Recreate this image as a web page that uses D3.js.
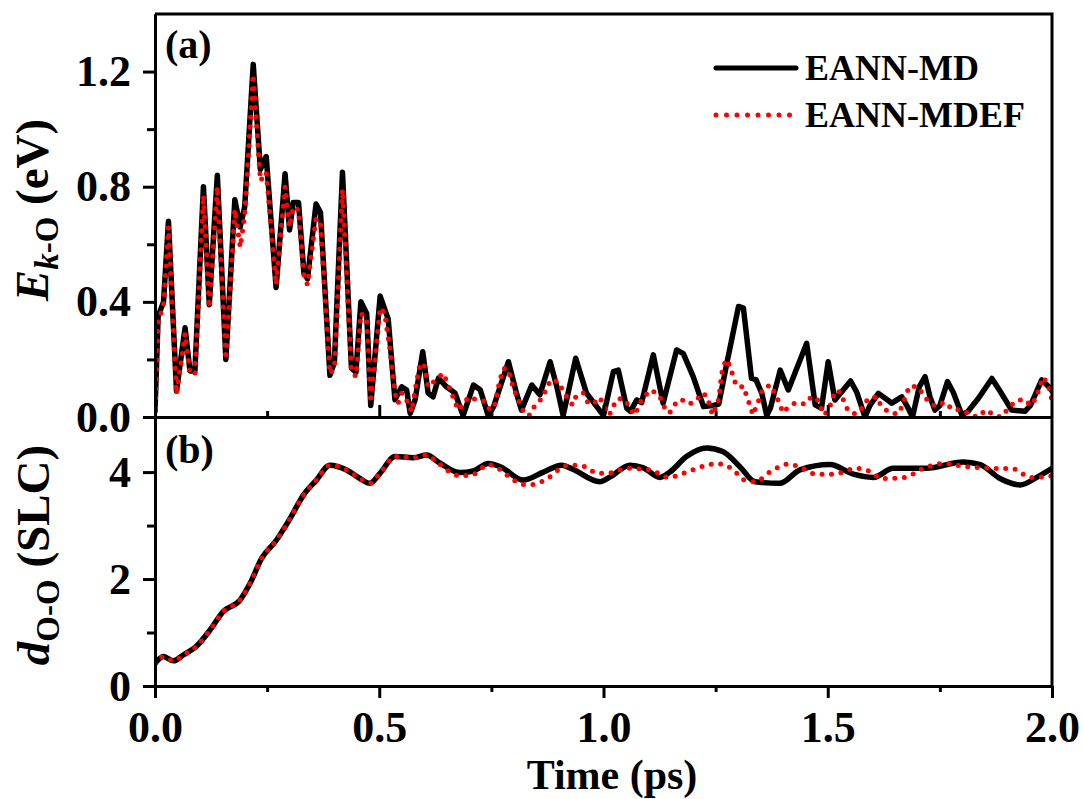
<!DOCTYPE html>
<html>
<head>
<meta charset="utf-8">
<script src="https://cdn.jsdelivr.net/npm/d3@7"></script>
<style>
  body { margin: 0; background: #fff; }
  svg { display: block; }
  text { font-family: "Liberation Serif", "Times New Roman", serif; font-weight: bold; }
</style>
</head>
<body>
<script>
// panel (a): kinetic energy of O, black = EANN-MD, red = EANN-MDEF
var tEkMD = [0.000,0.007,0.019,0.030,0.048,0.067,0.078,0.089,0.108,0.121,0.139,0.158,0.178,0.190,0.200,0.219,0.235,0.248,0.270,0.290,
  0.300,0.308,0.320,0.332,0.340,0.359,0.369,0.390,0.400,0.418,0.438,0.448,0.459,0.472,0.481,0.502,0.520,0.535,0.550,0.561,
  0.569,0.580,0.597,0.609,0.620,0.632,0.650,0.669,0.687,0.710,0.725,0.743,0.755,0.788,0.806,0.817,0.840,0.858,0.881,0.896,
  0.910,0.938,0.962,0.985,1.000,1.022,1.033,1.052,1.060,1.074,1.085,1.111,1.133,1.163,1.178,1.200,1.223,1.245,1.257,1.275,
  1.301,1.312,1.330,1.340,1.353,1.364,1.372,1.394,1.412,1.453,1.472,1.486,1.501,1.516,1.527,1.551,1.565,1.583,1.594,1.613,
  1.628,1.643,1.665,1.678,1.689,1.704,1.717,1.728,1.739,1.750,1.767,1.780,1.799,1.813,1.836,1.866,1.884,1.910,1.940,1.952,
  1.977,1.996,2.000];
var ekMD = [0.02,0.35,0.40,0.68,0.09,0.31,0.16,0.16,0.80,0.39,0.84,0.20,0.755,0.66,0.73,1.225,0.86,0.905,0.45,0.845,
  0.65,0.745,0.745,0.50,0.48,0.74,0.71,0.145,0.19,0.85,0.17,0.155,0.40,0.36,0.04,0.42,0.34,0.06,0.105,0.094,
  0.013,0.06,0.227,0.083,0.07,0.135,0.105,0.083,0.005,0.111,0.095,0.005,0.036,0.192,0.083,0.024,0.111,0.077,0.192,0.105,
  0.005,0.204,0.083,0.036,0.005,0.158,0.163,0.03,0.02,0.059,0.05,0.216,0.048,0.233,0.22,0.14,0.036,0.04,0.045,0.187,
  0.384,0.378,0.134,0.13,0.082,0.005,0.03,0.163,0.094,0.256,0.042,0.03,0.192,0.059,0.08,0.125,0.085,0.0,0.04,0.082,
  0.065,0.048,0.07,0.035,0.0,0.105,0.14,0.07,0.024,0.04,0.123,0.085,0.007,0.02,0.065,0.134,0.09,0.024,0.02,0.04,
  0.129,0.1,0.09];

var tEkEF = [0.000,0.007,0.019,0.030,0.048,0.067,0.078,0.089,0.108,0.121,0.139,0.158,0.178,0.190,0.200,0.219,0.235,0.248,0.270,0.290,
  0.300,0.308,0.320,0.332,0.340,0.359,0.369,0.390,0.400,0.418,0.438,0.448,0.459,0.472,0.481,0.502,0.512,0.523,0.535,0.542,
  0.550,0.565,0.572,0.580,0.591,0.600,0.609,0.630,0.643,0.661,0.676,0.685,0.699,0.718,0.735,0.747,0.757,0.769,0.777,0.788,
  0.799,0.810,0.825,0.836,0.847,0.866,0.873,0.886,0.901,0.910,0.931,0.940,0.955,0.966,0.977,0.992,1.000,1.013,1.025,1.033,
  1.048,1.059,1.070,1.081,1.089,1.107,1.126,1.133,1.147,1.160,1.173,1.190,1.208,1.217,1.230,1.237,1.243,1.254,1.258,1.263,
  1.268,1.275,1.284,1.290,1.299,1.314,1.319,1.327,1.333,1.342,1.349,1.356,1.373,1.386,1.393,1.400,1.415,1.430,1.448,1.459,
  1.474,1.483,1.492,1.504,1.509,1.518,1.529,1.537,1.546,1.563,1.579,1.590,1.609,1.620,1.639,1.656,1.667,1.674,1.683,1.701,
  1.713,1.726,1.741,1.761,1.779,1.801,1.817,1.834,1.853,1.869,1.886,1.903,1.919,1.938,1.953,1.966,1.972,1.981,1.988,1.996,
  2.000];
var ekMDEF = [0.0,0.33,0.39,0.66,0.08,0.29,0.15,0.15,0.77,0.38,0.80,0.20,0.72,0.59,0.70,1.19,0.82,0.85,0.46,0.80,
  0.66,0.73,0.72,0.49,0.46,0.69,0.67,0.15,0.17,0.79,0.16,0.14,0.36,0.34,0.05,0.38,0.36,0.245,0.083,0.048,
  0.083,0.048,0.018,0.094,0.187,0.18,0.105,0.135,0.152,0.083,0.024,0.04,0.07,0.059,0.055,0.024,0.04,0.129,0.169,0.165,
  0.10,0.06,0.007,0.007,0.04,0.07,0.105,0.131,0.12,0.088,0.042,0.077,0.083,0.048,0.045,0.068,0.04,0.007,0.048,0.065,
  0.06,0.03,0.007,0.048,0.07,0.094,0.07,0.04,0.013,0.045,0.062,0.045,0.057,0.082,0.075,0.04,0.007,0.045,0.075,0.146,
  0.181,0.20,0.17,0.131,0.105,0.105,0.07,0.04,0.007,0.04,0.07,0.10,0.111,0.07,0.045,0.015,0.04,0.05,0.045,0.065,
  0.07,0.04,0.007,0.03,0.06,0.092,0.085,0.05,0.02,0.01,0.035,0.065,0.07,0.035,0.015,0.01,0.04,0.077,0.108,0.105,
  0.077,0.05,0.037,0.052,0.025,0.025,0.008,0.0,0.025,0.008,0.0,0.03,0.056,0.062,0.04,0.07,0.105,0.138,0.12,0.09,
  0.053];

// panel (b): O-O distance (SLC)
var tDMD = [0.000,0.019,0.041,0.063,0.093,0.123,0.152,0.190,0.212,0.238,0.271,0.301,0.331,0.360,0.390,0.427,0.457,0.479,0.502,0.535,
  0.576,0.606,0.635,0.680,0.710,0.743,0.770,0.821,0.866,0.907,0.930,0.992,1.015,1.059,1.089,1.126,1.148,1.185,1.230,1.267,
  1.304,1.338,1.393,1.438,1.505,1.557,1.602,1.646,1.720,1.802,1.840,1.884,1.929,1.966,2.000];
var dMD = [0.42,0.55,0.47,0.58,0.75,1.05,1.39,1.61,1.92,2.39,2.73,3.13,3.57,3.85,4.13,4.04,3.88,3.79,3.98,4.29,
  4.27,4.32,4.17,3.99,4.02,4.16,4.10,3.85,4.00,4.13,4.06,3.82,3.91,4.13,4.08,3.90,4.00,4.29,4.45,4.38,
  4.10,3.82,3.79,4.04,4.14,3.96,3.90,4.07,4.07,4.19,4.14,3.88,3.76,3.90,4.07];

var tDEF = [0.000,0.019,0.041,0.063,0.093,0.123,0.152,0.190,0.212,0.238,0.271,0.301,0.331,0.360,0.390,0.427,0.457,0.479,0.502,0.535,
  0.576,0.606,0.620,0.658,0.680,0.710,0.743,0.765,0.800,0.821,0.843,0.880,0.910,0.925,0.947,0.988,1.010,1.055,1.104,1.145,
  1.185,1.230,1.252,1.290,1.312,1.338,1.371,1.412,1.438,1.475,1.512,1.564,1.586,1.624,1.672,1.713,1.758,1.810,1.869,1.914,
  1.951,2.000];
var dMDEF = [0.42,0.55,0.47,0.58,0.75,1.05,1.39,1.61,1.92,2.39,2.73,3.13,3.57,3.85,4.13,4.04,3.88,3.79,3.98,4.29,
  4.27,4.32,4.25,4.00,3.93,3.96,4.14,4.07,3.85,3.77,3.77,3.91,4.10,4.13,4.13,3.98,3.98,4.07,4.04,3.90,
  4.00,4.13,4.16,4.04,3.86,3.82,4.00,4.15,4.09,3.96,3.96,4.07,4.04,3.88,3.90,4.07,4.16,4.10,4.07,4.06,
  3.90,3.93];

var xTicks = [0, 0.5, 1.0, 1.5, 2.0];
var xMinor = [0.25, 0.75, 1.25, 1.75];
var yTicksA = [0, 0.4, 0.8, 1.2];
var yMinorA = [0.2, 0.6, 1.0];
var yTicksB = [0, 2, 4];
var yMinorB = [1, 3];
var seriesNames = ["EANN-MD", "EANN-MDEF"];

function drawChart() {
  var W = 1085, H = 799;
  var left = 155, right = 1052, plotTop = 14, midY = 417, bottom = 686;

  var svg = d3.select(document.body).append("svg").attr("width", W).attr("height", H);

  var x = d3.scaleLinear().domain([0, 2]).range([left, right]);
  var yA = d3.scaleLinear().domain([0, 1.4]).range([midY, plotTop]);
  var yB = d3.scaleLinear().domain([0, 5.03]).range([bottom, midY]);

  var defs = svg.append("defs");
  defs.append("clipPath").attr("id", "clipA").append("rect")
    .attr("x", left).attr("y", plotTop).attr("width", right - left).attr("height", midY - plotTop);
  defs.append("clipPath").attr("id", "clipB").append("rect")
    .attr("x", left).attr("y", midY).attr("width", right - left).attr("height", bottom - midY);

  function drawLines(clip, yScale, tBlack, vBlack, tRed, vRed, curve) {
    var line = d3.line().x(function(d){ return x(d[0]); }).y(function(d){ return yScale(d[1]); }).curve(curve);
    var g = svg.append("g").attr("clip-path", "url(#" + clip + ")");
    g.append("path").datum(d3.zip(tBlack, vBlack))
      .attr("d", line).attr("fill", "none").attr("stroke", "#000")
      .attr("stroke-width", 5.5).attr("stroke-linejoin", "round").attr("stroke-linecap", "round");
    g.append("path").datum(d3.zip(tRed, vRed))
      .attr("d", line).attr("fill", "none").attr("stroke", "#ff0000")
      .attr("stroke-width", 5).attr("stroke-dasharray", "0 9.5").attr("stroke-linecap", "round");
  }

  drawLines("clipA", yA, tEkMD, ekMD, tEkEF, ekMDEF, d3.curveLinear);
  drawLines("clipB", yB, tDMD, dMD, tDEF, dMDEF, d3.curveMonotoneX);

  function styleAxis(g) {
    g.selectAll("path.domain").attr("stroke", "#000").attr("stroke-width", 3);
    g.selectAll(".tick line").attr("stroke", "#000").attr("stroke-width", 3);
    g.selectAll("text").attr("font-size", 44).attr("font-family", "Liberation Serif, serif").attr("font-weight", "bold").attr("fill", "#000");
  }

  // left axes
  svg.append("g").attr("transform", "translate(" + left + ",0)")
    .call(d3.axisLeft(yA).tickValues(yMinorA).tickSize(8).tickFormat("").tickSizeOuter(0)).call(styleAxis);
  svg.append("g").attr("transform", "translate(" + left + ",0)")
    .call(d3.axisLeft(yA).tickValues(yTicksA).tickSize(12).tickPadding(12).tickSizeOuter(0).tickFormat(d3.format(".1f"))).call(styleAxis);
  svg.append("g").attr("transform", "translate(" + left + ",0)")
    .call(d3.axisLeft(yB).tickValues(yMinorB).tickSize(8).tickFormat("").tickSizeOuter(0)).call(styleAxis);
  svg.append("g").attr("transform", "translate(" + left + ",0)")
    .call(d3.axisLeft(yB).tickValues(yTicksB).tickSize(12).tickPadding(12).tickSizeOuter(0).tickFormat(d3.format("d"))).call(styleAxis);

  // x axis of panel (a): inward ticks, no labels
  svg.append("g").attr("transform", "translate(0," + midY + ")")
    .call(d3.axisTop(x).tickValues(xMinor).tickSize(6).tickFormat("").tickSizeOuter(0)).call(styleAxis);
  svg.append("g").attr("transform", "translate(0," + midY + ")")
    .call(d3.axisTop(x).tickValues(xTicks.slice(1, 4)).tickSize(12).tickFormat("").tickSizeOuter(0)).call(styleAxis);

  // x axis of panel (b)
  svg.append("g").attr("transform", "translate(0," + bottom + ")")
    .call(d3.axisBottom(x).tickValues(xMinor).tickSize(6).tickFormat("").tickSizeOuter(0)).call(styleAxis);
  svg.append("g").attr("transform", "translate(0," + bottom + ")")
    .call(d3.axisBottom(x).tickValues(xTicks).tickSize(12).tickPadding(13).tickSizeOuter(0).tickFormat(d3.format(".1f"))).call(styleAxis);

  // frame
  svg.append("path")
    .attr("d", "M" + left + "," + plotTop + "H" + right + "V" + bottom)
    .attr("fill", "none").attr("stroke", "#000").attr("stroke-width", 3);

  // panel labels
  svg.append("text").attr("x", 165).attr("y", 58).attr("font-size", 40).text("(a)");
  svg.append("text").attr("x", 165).attr("y", 463).attr("font-size", 40).text("(b)");

  // axis titles
  svg.append("text").attr("x", 612).attr("y", 789).attr("text-anchor", "middle").attr("font-size", 42).text("Time (ps)");

  var tA = svg.append("text").attr("transform", "translate(48,210) rotate(-90)")
    .attr("text-anchor", "middle").attr("font-size", 47);
  tA.append("tspan").attr("font-style", "italic").text("E");
  tA.append("tspan").attr("font-size", 33).attr("dy", 10).attr("font-style", "italic").text("k");
  tA.append("tspan").attr("font-size", 33).text("-O");
  tA.append("tspan").attr("dy", -10).text(" (eV)");

  var tB = svg.append("text").attr("transform", "translate(49,555) rotate(-90)")
    .attr("text-anchor", "middle").attr("font-size", 47);
  tB.append("tspan").attr("font-style", "italic").text("d");
  tB.append("tspan").attr("font-size", 33).attr("dy", 10).text("O-O");
  tB.append("tspan").attr("dy", -10).text(" (SLC)");

  // legend
  var legend = svg.append("g");
  legend.append("line").attr("x1", 716).attr("x2", 796).attr("y1", 68).attr("y2", 68)
    .attr("stroke", "#000").attr("stroke-width", 5).attr("stroke-linecap", "round");
  legend.append("line").attr("x1", 716).attr("x2", 790).attr("y1", 115).attr("y2", 115)
    .attr("stroke", "#ff0000").attr("stroke-width", 5).attr("stroke-dasharray", "0 10.5").attr("stroke-linecap", "round");
  legend.selectAll("text.leg").data(seriesNames).enter().append("text")
    .attr("class", "leg").attr("x", 805).attr("y", function(d, i){ return 80 + i * 47; })
    .attr("font-size", 36).text(function(d){ return d; });
}

drawChart();
</script>
</body>
</html>
